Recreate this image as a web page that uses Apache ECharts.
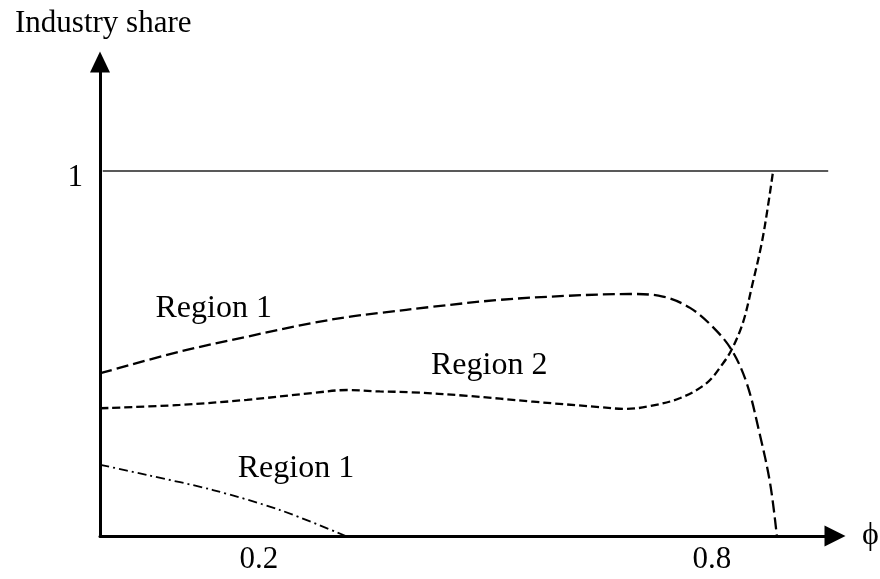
<!DOCTYPE html>
<html>
<head>
<meta charset="utf-8">
<script src="https://cdn.jsdelivr.net/npm/echarts@6/dist/echarts.min.js"></script>
<style>html,body{margin:0;padding:0;background:#fff}#c{width:880px;height:579px}</style>
</head>
<body>
<div id="c"></div>
<script>
// ---- data (phi, industry share) ----
var upperBoundary = [
  [-0.01, 0.446], [0.095, 0.505], [0.184, 0.546], [0.272, 0.584], [0.321, 0.601],
  [0.360, 0.611], [0.430, 0.628], [0.519, 0.647], [0.608, 0.658], [0.691, 0.663],
  [0.735, 0.656], [0.771, 0.625], [0.801, 0.573], [0.826, 0.510], [0.846, 0.419],
  [0.863, 0.282], [0.877, 0.145], [0.886, 0.0]
];
var lowerBoundary = [
  [-0.01, 0.350], [0.095, 0.359], [0.184, 0.373], [0.272, 0.392], [0.317, 0.400],
  [0.360, 0.396], [0.400, 0.394], [0.476, 0.384], [0.563, 0.368], [0.652, 0.353],
  [0.685, 0.348], [0.718, 0.356], [0.758, 0.378], [0.793, 0.419], [0.815, 0.474],
  [0.826, 0.510], [0.841, 0.584], [0.854, 0.693], [0.866, 0.803], [0.874, 0.901],
  [0.881, 1.0]
];
var dashDotBoundary = [
  [-0.01, 0.195], [0.052, 0.167], [0.139, 0.126], [0.228, 0.071], [0.315, 0.0]
];
var fullShareLine = [[-0.007, 1], [0.954, 1]];
var xTickValues = [0.2, 0.8];
var yTickValues = [1];
var regionLabels = [
  ['Region 1', 0.140, 0.622],
  ['Region 2', 0.505, 0.468],
  ['Region 1', 0.249, 0.184]
];
var yTitle = 'Industry share';
var xTitle = '\u03D5';

// ---- chart ----
var FONT = '"Liberation Serif", "Times New Roman", serif';
var chart = echarts.init(document.getElementById('c'), null, {renderer: 'canvas'});
var option = {
  animation: false,
  backgroundColor: '#ffffff',
  title: {
    text: yTitle, left: 10, top: 3,
    textStyle: {fontFamily: FONT, fontSize: 31, fontWeight: 'normal', color: '#000'}
  },
  grid: {left: 100, right: 45, top: 62, bottom: 43, outerBoundsMode: 'none', containLabel: false},
  xAxis: {
    type: 'value', min: -0.0106, max: 0.963,
    name: xTitle, nameLocation: 'end', nameGap: 27,
    nameTextStyle: {fontFamily: FONT, fontSize: 32, color: '#000', verticalAlign: 'middle'},
    axisLine: {show: true, onZero: false, symbol: ['none', 'triangle'], symbolSize: [21, 21],
      lineStyle: {color: '#000', width: 3}},
    axisTick: {show: false},
    splitLine: {show: false},
    axisLabel: {show: true, customValues: xTickValues, margin: 8,
      fontFamily: FONT, fontSize: 31, color: '#000', formatter: function (v) { return String(v); }}
  },
  yAxis: {
    type: 'value', min: 0, max: 1.2986,
    axisLine: {show: true, onZero: false, symbol: ['none', 'triangle'], symbolSize: [20, 21],
      lineStyle: {color: '#000', width: 3}},
    axisTick: {show: false},
    splitLine: {show: false},
    axisLabel: {show: true, customValues: yTickValues, margin: 17,
      fontFamily: FONT, fontSize: 31, color: '#000', verticalAlign: 'top', lineHeight: 14,
      formatter: function (v) { return String(v); }}
  },
  series: [
    {
      type: 'line', data: fullShareLine, symbol: 'none', silent: true,
      lineStyle: {color: '#222', width: 1.3, type: 'solid'}
    },
    {
      type: 'line', data: upperBoundary, symbol: 'none', smooth: 0.35, silent: true,
      lineStyle: {color: '#000', width: 2.3, type: [12, 5]}
    },
    {
      type: 'line', data: lowerBoundary, symbol: 'none', smooth: 0.35, silent: true,
      lineStyle: {color: '#000', width: 2.3, type: [8, 4]}
    },
    {
      type: 'line', data: dashDotBoundary, symbol: 'none', smooth: 0.3, silent: true,
      lineStyle: {color: '#000', width: 1.8, type: [9, 4, 2, 4]}
    },
    {
      type: 'scatter', silent: true, symbolSize: 1,
      itemStyle: {color: 'transparent', opacity: 1},
      data: regionLabels.map(function (r) { return {name: r[0], value: [r[1], r[2]]}; }),
      label: {show: true, position: 'inside', formatter: '{b}',
        fontFamily: FONT, fontSize: 32, color: '#000', textBorderWidth: 0, textBorderColor: 'transparent'}
    }
  ]
};
chart.setOption(option);
</script>
</body>
</html>
